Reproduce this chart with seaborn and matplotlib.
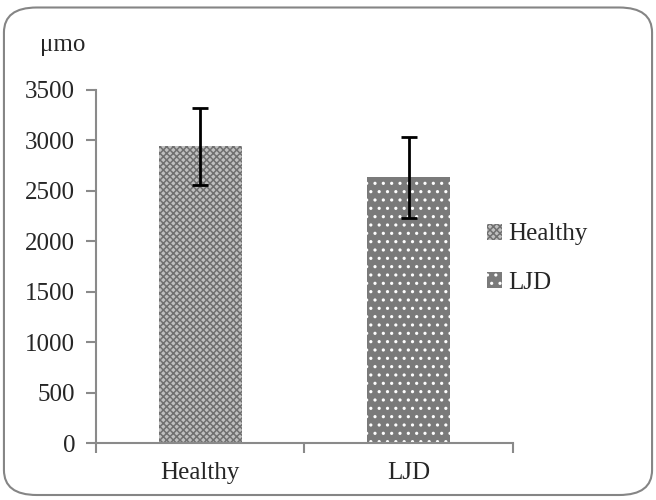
import matplotlib
matplotlib.use("Agg")
import matplotlib.pyplot as plt
from matplotlib.patches import FancyBboxPatch
import seaborn as sns
import pandas as pd

# data
groups = ["Healthy", "LJD"]
means = [2940, 2635]
errors = [385, 400]
y_ticks = [0, 500, 1000, 1500, 2000, 2500, 3000, 3500]

df = pd.DataFrame({"group": groups, "value": means})

sns.set_style("white")
plt.rcParams["font.family"] = ["Liberation Serif", "DejaVu Serif"]
plt.rcParams["hatch.linewidth"] = 1.1

fig = plt.figure(figsize=(6.56, 5.0), dpi=100)
ax = fig.add_axes([0.1463, 0.114, 0.6357, 0.706])

sns.barplot(data=df, x="group", y="value", hue="group", palette=["white", "#7a7a7a"],
            width=0.4, legend=False, errorbar=None, ax=ax)

# checker / dotted fills
styles = [("#c0c0c0", "#707070", "xxxxx"), ("#7a7a7a", "white", "..")]
for p, (fc, hc, h) in zip(ax.patches, styles):
    p.set_facecolor(fc)
    p.set_edgecolor(hc)
    p.set_linewidth(0)
    p.set_hatch(h)

ax.errorbar(range(len(groups)), means, yerr=errors, fmt="none", ecolor="black",
            elinewidth=2, capsize=6, capthick=2)

ax.set_ylim(0, 3500)
ax.set_xlim(-0.5, 1.5)
ax.set_yticks(y_ticks)
ax.set_xlabel("")
ax.set_ylabel("")
ax.set_xticks([-0.5, 0.5, 1.5], minor=False)
ax.set_xticklabels(["", "", ""])
ax.set_xticks([0, 1], minor=True)
ax.set_xticklabels(groups, minor=True)
ax.tick_params(axis="x", which="minor", bottom=False, length=0, pad=14, labelsize=18)
ax.tick_params(axis="x", which="major", bottom=True, length=7, width=1.5, color="#8a8a8a", direction="out")
ax.tick_params(axis="y", left=True, length=7, width=1.5, color="#8a8a8a", direction="out", labelsize=18, pad=8)
for s in ["top", "right"]:
    ax.spines[s].set_visible(False)
for s in ["left", "bottom"]:
    ax.spines[s].set_color("#8a8a8a")
    ax.spines[s].set_linewidth(1.5)

fig.text(0.095, 0.91, "μmo", fontsize=18, ha="center", va="center")

ax.legend(handles=ax.patches[:2], labels=groups, loc="center left",
          bbox_to_anchor=(0.742, 0.483), bbox_transform=fig.transFigure,
          frameon=False, fontsize=18, handlelength=0.6, handleheight=0.6,
          handletextpad=0.25, labelspacing=1.05, borderaxespad=0, borderpad=0)

# rounded outer frame
frame = FancyBboxPatch((0.006, 0.01), 0.988, 0.975, boxstyle="round,pad=0,rounding_size=0.05",
                       transform=fig.transFigure, facecolor="none", edgecolor="#858585",
                       linewidth=1.5)
fig.patches.append(frame)

fig.savefig("out.png", dpi=100)
